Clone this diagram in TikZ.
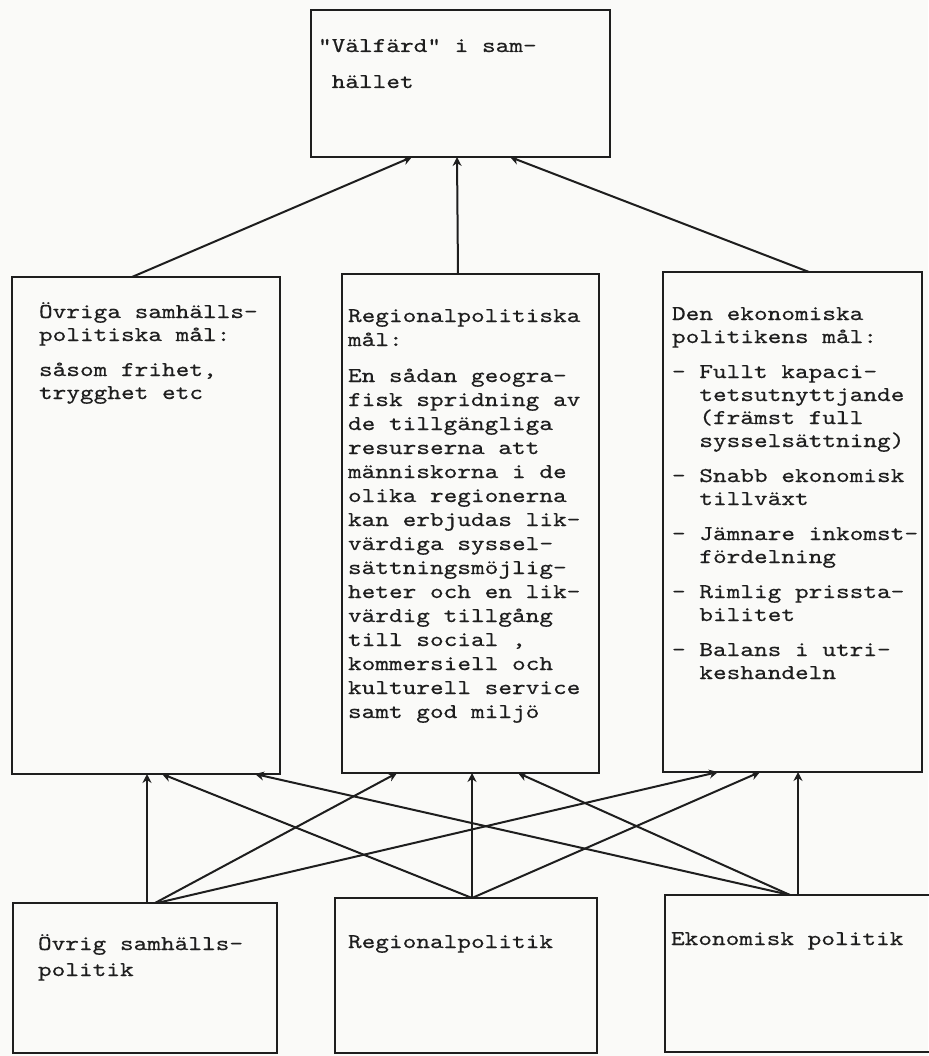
\documentclass[tikz,border=0pt]{standalone}
\usepackage{fontspec}
\usetikzlibrary{arrows.meta,calc}
\newfontfamily\typewriter{lmmono10-regular.otf}[FakeStretch=1.24,FakeBold=0.4]
\definecolor{ink}{HTML}{1E1E1E}
\definecolor{paper}{HTML}{FAFAF8}
% one typed line, and a block of typed lines with a fixed line pitch
\newcommand\typeline[1]{\hbox{#1}}
\newcommand\typeblock[2]{\vtop{\baselineskip=#1\lineskiplimit=-100pt\lineskip=0pt #2}}
\newcommand\parskipline{\vskip12pt}
\newcommand\hang{\hphantom{xx}}

\begin{document}
\begin{tikzpicture}[x=1pt,y=-1pt,
  box/.style={draw=ink, line width=2.4pt, rectangle, inner sep=0pt, outer sep=0pt, anchor=north west},
  txt/.style={inner sep=0pt, outer sep=0pt, anchor=base west, text=ink,
              font=\typewriter\fontsize{21}{24}\selectfont},
  conn/.style={draw=ink, line width=2pt, -{Stealth[length=9pt,width=9pt]}}]

\fill[paper] (0,0) rectangle (928,1056);
\useasboundingbox (0,0) rectangle (928,1056);

% boxes
\node[box, minimum width=299pt, minimum height=147pt] (goal) at (311,10) {};
\node[box, minimum width=268pt, minimum height=497pt] (m1) at (12,277) {};
\node[box, minimum width=257pt, minimum height=499pt] (m2) at (342,274) {};
\node[box, minimum width=259pt, minimum height=500pt] (m3) at (663,272) {};
\node[box, minimum width=264pt, minimum height=150pt] (b1) at (13,903) {};
\node[box, minimum width=262pt, minimum height=155pt] (b2) at (335,898) {};
\node[box, minimum width=290pt, minimum height=157pt] (b3) at (665,895) {};

% texts
\node[txt] (goalt) at ($(goal.north west)+(7,42)$)
  {\typeblock{36pt}{\typeline{"Välfärd" i sam-}\typeline{\hphantom{x}hället}}};

\node[txt] (m1t) at ($(m1.north west)+(27,41)$)
  {\typeblock{23pt}{%
    \typeline{Övriga samhälls-}\typeline{politiska mål:}\parskipline
    \typeline{såsom frihet,}\typeline{trygghet etc}}};

\node[txt] (m2t) at ($(m2.north west)+(6,48)$)
  {\typeblock{24pt}{%
    \typeline{Regionalpolitiska}\typeline{mål:}\parskipline
    \typeline{En sådan geogra-}
    \typeline{fisk spridning av}
    \typeline{de tillgängliga}
    \typeline{resurserna att}
    \typeline{människorna i de}
    \typeline{olika regionerna}
    \typeline{kan erbjudas lik-}
    \typeline{värdiga syssel-}
    \typeline{sättningsmöjlig-}
    \typeline{heter och en lik-}
    \typeline{värdig tillgång}
    \typeline{till social ,}
    \typeline{kommersiell och}
    \typeline{kulturell service}
    \typeline{samt god miljö}}};

\node[txt] (m3t) at ($(m3.north west)+(9,48)$)
  {\typeblock{23pt}{%
    \typeline{Den ekonomiska}\typeline{politikens mål:}\parskipline
    \typeline{- Fullt kapaci-}
    \typeline{\hang tetsutnyttjande}
    \typeline{\hang (främst full}
    \typeline{\hang sysselsättning)}\parskipline
    \typeline{- Snabb ekonomisk}
    \typeline{\hang tillväxt}\parskipline
    \typeline{- Jämnare inkomst-}
    \typeline{\hang fördelning}\parskipline
    \typeline{- Rimlig prissta-}
    \typeline{\hang bilitet}\parskipline
    \typeline{- Balans i utri-}
    \typeline{\hang keshandeln}}};

\node[txt] (b1t) at ($(b1.north west)+(25,47)$)
  {\typeblock{26pt}{\typeline{Övrig samhälls-}\typeline{politik}}};
\node[txt] (b2t) at ($(b2.north west)+(13,50)$) {Regionalpolitik};
\node[txt] (b3t) at ($(b3.north west)+(6,50)$) {Ekonomisk politik};

% goals feed the overall welfare box
\draw[conn] ($(m1.north west)+(120,0)$) -- ($(goal.south west)+(101,0)$);
\draw[conn] ($(m2.north west)+(116,0)$) -- ($(goal.south west)+(146,0)$);
\draw[conn] ($(m3.north west)+(146,0)$) -- ($(goal.south west)+(199,0)$);

% each policy area acts on every goal
\draw[conn] ($(b1.north west)+(134,0)$) -- ($(m1.south west)+(135,0)$);
\draw[conn] ($(b1.north west)+(142,0)$) -- ($(m2.south west)+(55,0)$);
\draw[conn] ($(b1.north west)+(144,0)$) -- ($(m3.south west)+(55,0)$);

\draw[conn] ($(b2.north west)+(137,0)$) -- ($(m1.south west)+(150,0)$);
\draw[conn] ($(b2.north west)+(137,0)$) -- ($(m2.south west)+(130,0)$);
\draw[conn] ($(b2.north west)+(137,0)$) -- ($(m3.south west)+(97,0)$);

\draw[conn] ($(b3.north west)+(125,0)$) -- ($(m1.south west)+(243,0)$);
\draw[conn] ($(b3.north west)+(125,0)$) -- ($(m2.south west)+(176,0)$);
\draw[conn] ($(b3.north west)+(133,0)$) -- ($(m3.south west)+(135,0)$);
\end{tikzpicture}
\end{document}
